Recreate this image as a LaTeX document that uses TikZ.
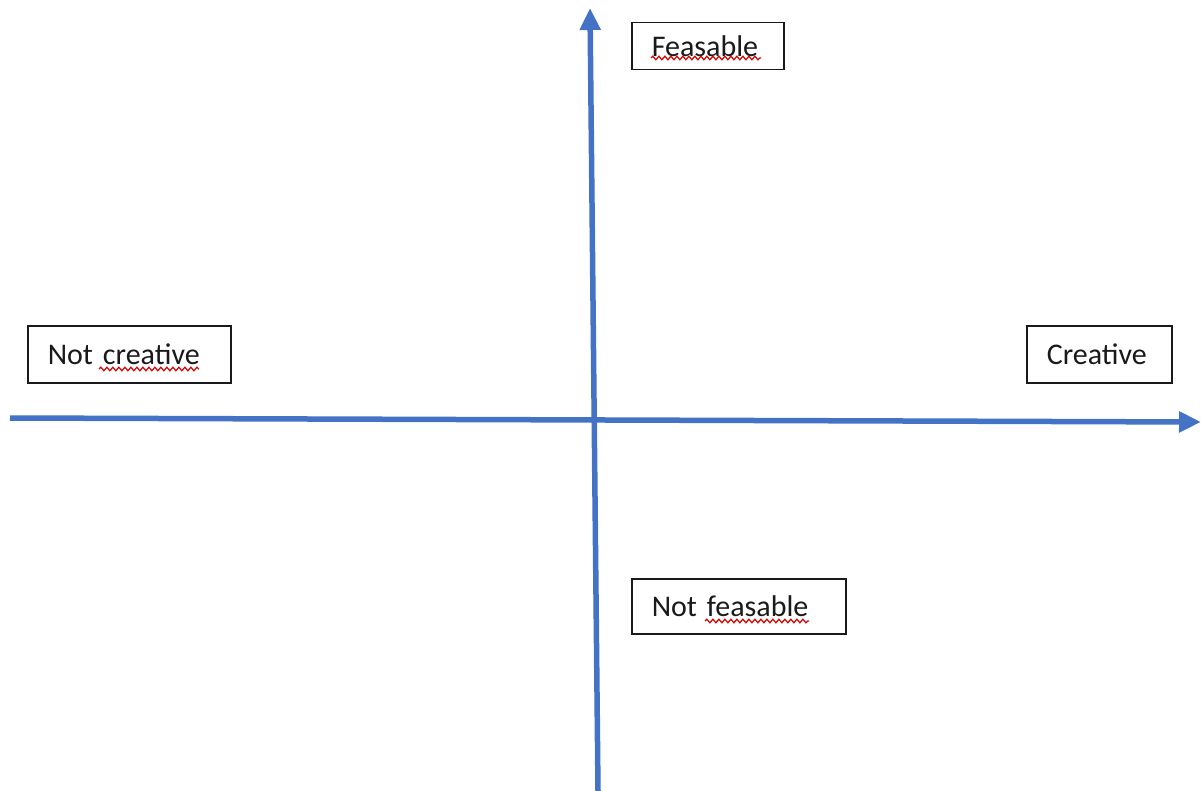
\documentclass[tikz,border=0pt]{standalone}
\usepackage{fontspec}
\setmainfont{Carlito}
\usepackage{tikz}
\usetikzlibrary{arrows.meta,positioning,calc,decorations.pathmorphing}

\definecolor{axisblue}{HTML}{4472C4}
\definecolor{boxtext}{HTML}{1A1A1A}

\begin{document}
\begin{tikzpicture}[
  x=1pt, y=-1pt,
  box/.style={draw=boxtext, line width=1.5pt, anchor=north west,
              inner xsep=20pt, inner ysep=0pt, align=left,
              text=boxtext, font=\fontsize{30}{34}\selectfont},
  axis/.style={axisblue, line width=5.5pt,
               -{Triangle[width=20pt, length=22pt]}},
  squiggle/.style={red!85!black, line width=1.2pt, decorate,
                   decoration={snake, amplitude=1.8pt, segment length=6pt}},
]
  \useasboundingbox (0,0) rectangle (1201,791);

  % Axis end points
  \coordinate (left)   at (10, 418);
  \coordinate (right)  at (1201, 422);
  \coordinate (bottom) at (598, 791);
  \coordinate (top)    at (590, 8);

  % Axes
  \draw[axis] (left) -- (right);
  \draw[axis] (bottom) -- (top);

  % Boxes
  \node[box, text width=112pt, minimum height=47pt] (feas) at (631, 22)
    {Feasable};
  \node[box, text width=163pt, minimum height=57pt] (notcre) at (27, 325)
    {Not creative};
  \node[box, text width=105pt, minimum height=57pt] (cre) at (1026, 325)
    {Creative};
  \node[box, text width=174pt, minimum height=55pt] (notfeas) at (631, 578)
    {Not feasable};

  % Spell-check underlines
  \draw[squiggle] (651, 58) -- (761, 58);
  \draw[squiggle] (99, 369) -- (199, 369);
  \draw[squiggle] (705, 621) -- (809, 621);
\end{tikzpicture}
\end{document}
